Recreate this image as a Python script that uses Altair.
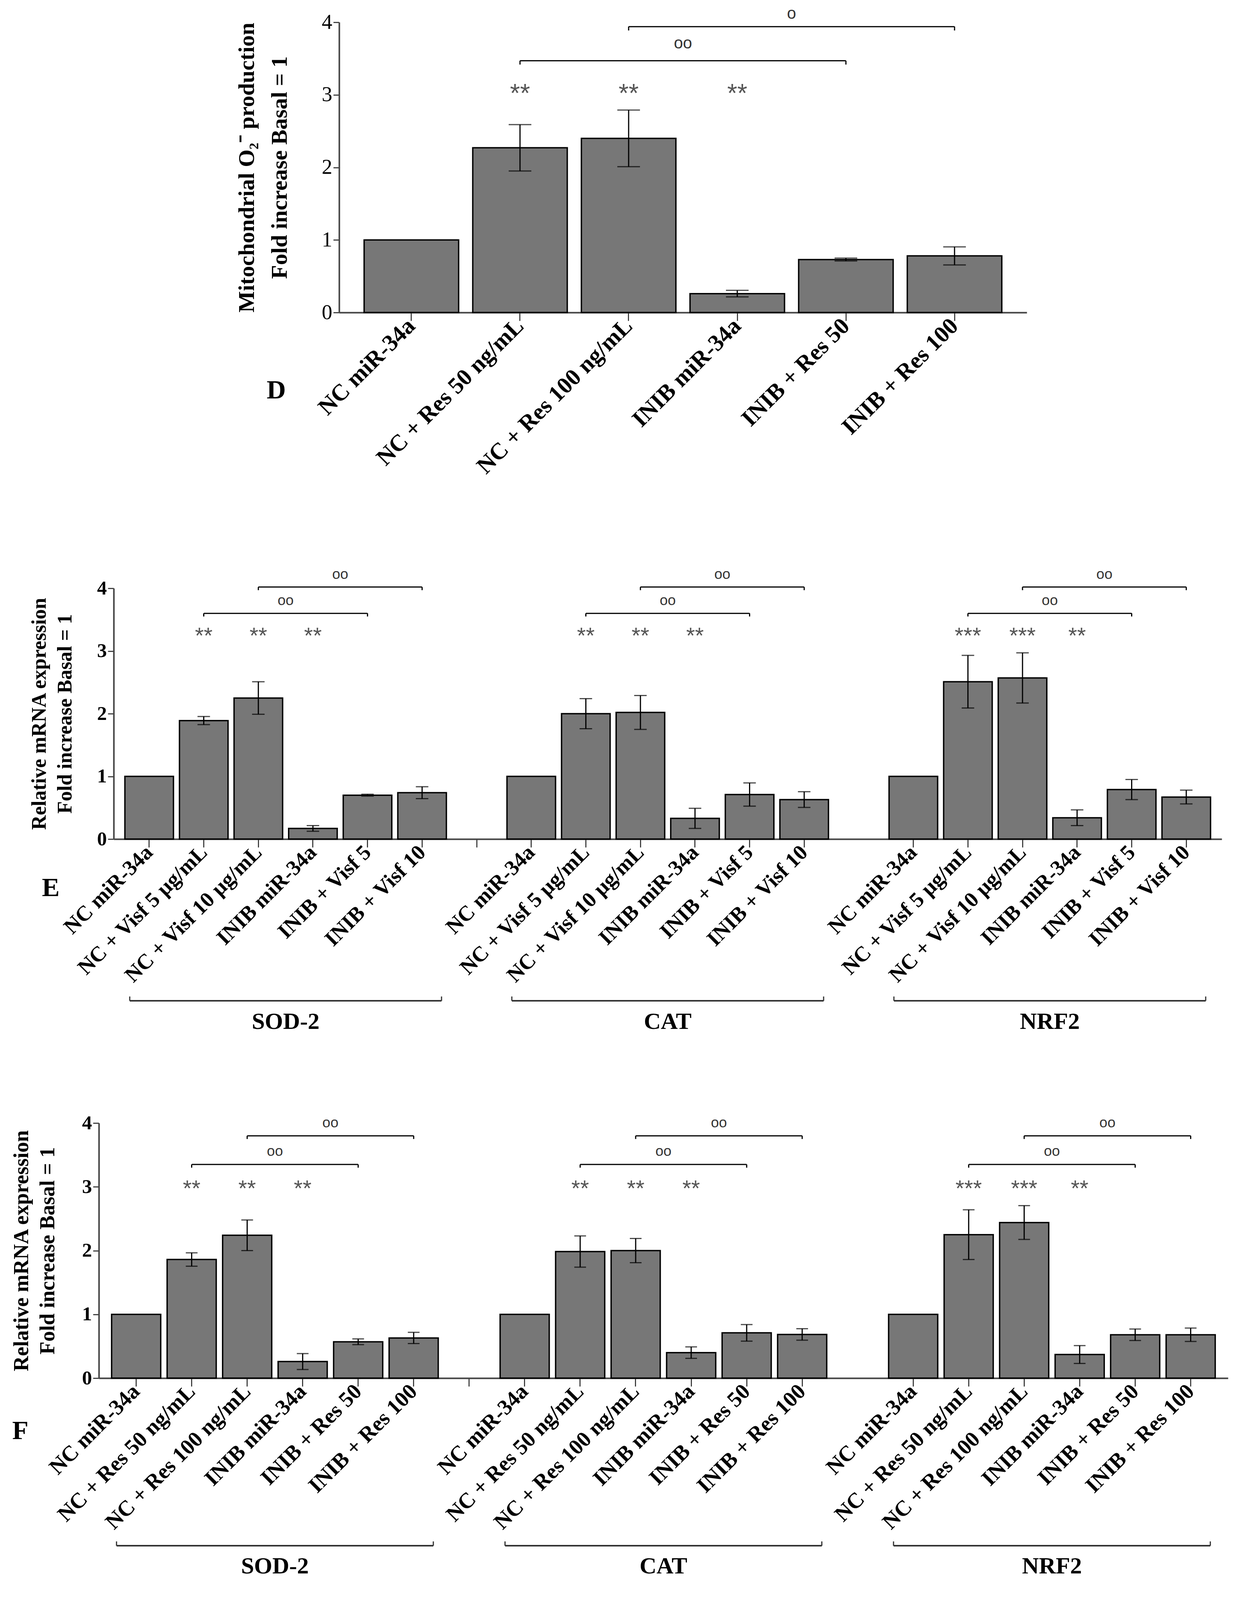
import altair as alt
import pandas as pd

SERIF = "Liberation Serif"
SANS = "Liberation Sans"
BAR_FILL = "#777777"

# ---------------- Panel D data ----------------
d_labels = ["NC miR-34a", "NC + Res 50 ng/mL", "NC + Res 100 ng/mL",
            "INIB miR-34a", "INIB + Res 50", "INIB + Res 100"]
d_mean = [1.00, 2.27, 2.40, 0.26, 0.73, 0.78]
d_err = [0.00, 0.32, 0.39, 0.045, 0.02, 0.125]
d_stars = ["", "**", "**", "**", "", ""]
d_star_y = 3.01
d_br_from = [1, 2]
d_br_to = [4, 5]
d_br_level = [3.47, 3.94]
d_br_text = ["oo", "o"]
d_br_text_y = [3.71, 4.12]

# ---------------- Panel E data ----------------
groups = ["SOD-2", "CAT", "NRF2"]
e_labels = ["NC miR-34a", "NC + Visf 5 µg/mL", "NC + Visf 10 µg/mL",
            "INIB miR-34a", "INIB + Visf 5", "INIB + Visf 10"]
e_mean_sod2 = [1.00, 1.89, 2.25, 0.17, 0.70, 0.74]
e_err_sod2 = [0.00, 0.065, 0.26, 0.045, 0.015, 0.095]
e_mean_cat = [1.00, 2.00, 2.02, 0.33, 0.71, 0.63]
e_err_cat = [0.00, 0.24, 0.27, 0.16, 0.185, 0.125]
e_mean_nrf2 = [1.00, 2.51, 2.57, 0.34, 0.79, 0.67]
e_err_nrf2 = [0.00, 0.42, 0.40, 0.125, 0.16, 0.11]
e_stars_sod2 = ["", "**", "**", "**", "", ""]
e_stars_cat = ["", "**", "**", "**", "", ""]
e_stars_nrf2 = ["", "***", "***", "**", "", ""]
e_star_y = 3.23
e_br_level = [3.60, 4.02]
e_br_text_y = [3.80, 4.22]

# ---------------- Panel F data ----------------
f_labels = ["NC miR-34a", "NC + Res 50 ng/mL", "NC + Res 100 ng/mL",
            "INIB miR-34a", "INIB + Res 50", "INIB + Res 100"]
f_mean_sod2 = [1.00, 1.86, 2.24, 0.26, 0.57, 0.63]
f_err_sod2 = [0.00, 0.105, 0.24, 0.125, 0.045, 0.088]
f_mean_cat = [1.00, 1.985, 2.00, 0.40, 0.71, 0.685]
f_err_cat = [0.00, 0.245, 0.19, 0.09, 0.13, 0.09]
f_mean_nrf2 = [1.00, 2.25, 2.44, 0.37, 0.68, 0.68]
f_err_nrf2 = [0.00, 0.39, 0.265, 0.14, 0.09, 0.105]
f_stars_sod2 = ["", "**", "**", "**", "", ""]
f_stars_cat = ["", "**", "**", "**", "", ""]
f_stars_nrf2 = ["", "***", "***", "**", "", ""]
f_star_y = 2.96
f_br_level = [3.35, 3.80]
f_br_text_y = [3.55, 4.00]

# shared bracket definition for E/F groups (bar index from -> to, label)
ef_br_from = [1, 2]
ef_br_to = [4, 5]
ef_br_text = ["oo", "oo"]


def group_tables(prefix, labels, means, errs, stars, star_y,
                 br_from, br_to, br_level, br_text, br_text_y):
    cats = [f"{prefix}|{l}" for l in labels]
    bars = pd.DataFrame({"cat": cats, "mean": means, "err": errs, "star": stars})
    bars["lo"] = bars["mean"] - bars["err"]
    bars["hi"] = bars["mean"] + bars["err"]
    bars["sy"] = star_y
    brk = pd.DataFrame({
        "a": [cats[i] for i in br_from],
        "b": [cats[j] for j in br_to],
        "mid": [cats[(i + j) // 2] for i, j in zip(br_from, br_to)],
        "level": br_level,
        "txt": br_text,
        "ty": br_text_y,
    })
    ends = pd.concat([
        pd.DataFrame({"c": brk["a"], "level": brk["level"]}),
        pd.DataFrame({"c": brk["b"], "level": brk["level"]}),
    ], ignore_index=True)
    return cats, bars, brk, ends


def build_panel(cats, tick_vals, bars, brk, ends, grp, letter, W, H, pi, po, s):
    step = W / (len(cats) - pi + 2 * po)
    xscale = alt.Scale(domain=cats, paddingInner=pi, paddingOuter=po)
    yscale = alt.Scale(domain=[0, 4], nice=False)
    ends = ends.copy()
    ends["level2"] = ends["level"] - s["endlen"]

    xaxis = alt.Axis(
        values=tick_vals,
        labelExpr="indexof(datum.value, '|') >= 0 ? split(datum.value, '|')[1] : ''",
        labelAngle=-45, labelAlign="right", labelBaseline="middle",
        labelFont=SERIF, labelFontWeight="bold", labelFontSize=s["xlab"],
        labelLimit=0, labelOverlap=False, labelPadding=s["xpad"], labelColor="black",
        tickSize=21, tickColor="#222222", tickWidth=2.5,
        domainColor="#444444", domainWidth=4, title=None, grid=False)
    yaxis = alt.Axis(
        values=[0, 1, 2, 3, 4], format="d", title=s["ytitle"],
        titleFont=SERIF, titleFontWeight="bold", titleFontSize=s["ytfs"],
        titleLineHeight=s["ytlh"], titlePadding=s["ytpad"], titleColor="black",
        labelFont=SERIF, labelFontWeight=s["ylw"], labelFontSize=s["ylfs"],
        labelColor="black", labelPadding=3, tickSize=15, tickColor="#444444",
        tickWidth=3, domainColor="#444444", domainWidth=4, grid=False)

    def XS(field, bp=None):
        if bp is None:
            return alt.X(field, scale=xscale)
        return alt.X(field, scale=xscale, bandPosition=bp)

    def YS(field):
        return alt.Y(field, scale=yscale)

    layers = []
    layers.append(alt.Chart(bars).mark_bar(fill=BAR_FILL, stroke="black", strokeWidth=3.5).encode(
        x=alt.X("cat:N", scale=xscale, axis=xaxis),
        y=alt.Y("mean:Q", scale=yscale, axis=yaxis)))
    eb = alt.Chart(bars).transform_filter("datum.err > 0")
    layers.append(eb.mark_rule(color="black", strokeWidth=3).encode(
        x=XS("cat:N", 0.5), y=YS("lo:Q"), y2="hi:Q"))
    layers.append(eb.transform_fold(["lo", "hi"], as_=["k", "v"]).mark_tick(
        color="black", thickness=3, size=s["cap"]).encode(x=XS("cat:N"), y=YS("v:Q")))
    layers.append(alt.Chart(bars).transform_filter("datum.star != ''").mark_text(
        font=SANS, fontSize=s["star"], color="#555555", baseline="middle").encode(
        x=XS("cat:N", 0.5), y=YS("sy:Q"), text="star:N"))
    layers.append(alt.Chart(brk).mark_rule(color="black", strokeWidth=3).encode(
        x=XS("a:N", 0.5), x2=alt.X2("b:N", bandPosition=0.5), y=YS("level:Q")))
    layers.append(alt.Chart(ends).mark_rule(color="black", strokeWidth=3).encode(
        x=XS("c:N", 0.5), y=YS("level:Q"), y2="level2:Q"))
    layers.append(alt.Chart(brk).mark_text(
        font=SANS, fontSize=s["oo"], color="#333333", baseline="middle", dx=step / 2).encode(
        x=XS("mid:N", 0.5), y=YS("ty:Q"), text="txt:N"))

    if grp is not None:
        gy = H + s["gy"]
        layers.append(alt.Chart(grp).mark_rule(color="#333333", strokeWidth=4).encode(
            x=XS("first:N", 0.1), x2=alt.X2("last:N", bandPosition=0.9), y=alt.value(gy)))
        layers.append(alt.Chart(grp).mark_rule(color="#333333", strokeWidth=3).encode(
            x=XS("first:N", 0.1), y=alt.value(gy - 11), y2=alt.value(gy)))
        layers.append(alt.Chart(grp).mark_rule(color="#333333", strokeWidth=3).encode(
            x=XS("last:N", 0.9), y=alt.value(gy - 11), y2=alt.value(gy)))
        layers.append(alt.Chart(grp).mark_text(
            font=SERIF, fontWeight="bold", fontSize=s["glab"], color="black",
            baseline="middle", dx=step / 2).encode(
            x=XS("mid:N", 0.5), y=alt.value(H + s["gl"]), text="name:N"))

    layers.append(alt.Chart(pd.DataFrame({"letter": [letter]})).mark_text(
        font=SERIF, fontWeight="bold", fontSize=68, color="black",
        baseline="middle", align="center").encode(
        x=alt.value(s["lx"]), y=alt.value(H + s["ly"]), text="letter:N"))

    return alt.layer(*layers).properties(width=W, height=H)


def spacer(w):
    return alt.Chart(pd.DataFrame({"s": [0]})).mark_point(opacity=0).encode(
        x=alt.value(0), y=alt.value(0)).properties(width=w, height=10)


# ---- Panel D ----
d_cats, d_bars, d_brk, d_ends = group_tables(
    "D", d_labels, d_mean, d_err, d_stars, d_star_y,
    d_br_from, d_br_to, d_br_level, d_br_text, d_br_text_y)
panel_d = build_panel(
    d_cats, d_cats, d_bars, d_brk, d_ends, None, "D", 1760, 743, 0.13, 0.23,
    dict(xlab=60, xpad=4, ytitle=["Mitochondrial O\u2082\u207b production", "Fold increase Basal = 1"],
         ytfs=58, ytlh=84, ytpad=78, ylw="normal", ylfs=54, cap=58, star=66, oo=42,
         endlen=0.053, lx=-161, ly=200))


# ---- Panels E and F ----
def multi(prefix_labels, means, errs, stars, star_y, br_level, br_text_y):
    cats, bars, brks, ends = [], [], [], []
    grp_rows = []
    for gi, g in enumerate(groups):
        c, b, br, en = group_tables(g, prefix_labels, means[gi], errs[gi], stars[gi], star_y,
                                    ef_br_from, ef_br_to, br_level, ef_br_text, br_text_y)
        cats += c
        if gi < len(groups) - 1:
            cats.append(f"gap{gi}")
        bars.append(b)
        brks.append(br)
        ends.append(en)
        grp_rows.append({"first": c[0], "last": c[-1], "mid": c[2], "name": g})
    tick_vals = [c for c in cats if c != "gap1"]
    return (cats, tick_vals, pd.concat(bars, ignore_index=True), pd.concat(brks, ignore_index=True),
            pd.concat(ends, ignore_index=True), pd.DataFrame(grp_rows))


ec, et, eb_, ebr, een, egrp = multi(
    e_labels, [e_mean_sod2, e_mean_cat, e_mean_nrf2], [e_err_sod2, e_err_cat, e_err_nrf2],
    [e_stars_sod2, e_stars_cat, e_stars_nrf2], e_star_y, e_br_level, e_br_text_y)
panel_e = build_panel(
    ec, et, eb_, ebr, een, egrp, "E", 2836, 642, 0.11, 0.205,
    dict(xlab=55, xpad=4, ytitle=["Relative mRNA expression", "Fold increase Basal = 1"],
         ytfs=52, ytlh=66, ytpad=55, ylw="bold", ylfs=50, cap=32, star=58, oo=37,
         endlen=0.05, gy=414, gl=468, glab=60, lx=-161, ly=126))

fc, ft, fb_, fbr, fen, fgrp = multi(
    f_labels, [f_mean_sod2, f_mean_cat, f_mean_nrf2], [f_err_sod2, f_err_cat, f_err_nrf2],
    [f_stars_sod2, f_stars_cat, f_stars_nrf2], f_star_y, f_br_level, f_br_text_y)
panel_f = build_panel(
    fc, ft, fb_, fbr, fen, fgrp, "F", 2890, 653, 0.115, 0.23,
    dict(xlab=56, xpad=4, ytitle=["Relative mRNA expression", "Fold increase Basal = 1"],
         ytfs=54, ytlh=67, ytpad=60, ylw="bold", ylfs=51, cap=30, star=58, oo=37,
         endlen=0.05, gy=429, gl=482, glab=60, lx=-201, ly=136))

row_d = alt.hconcat(spacer(587), panel_d, spacing=0)
row_e = alt.hconcat(spacer(58), panel_e, spacing=0)
row_f = alt.hconcat(spacer(12), panel_f, spacing=0)

chart = alt.vconcat(alt.vconcat(row_d, row_e, spacing=227), row_f, spacing=203).configure(
    background="white").configure_view(stroke=None, strokeWidth=0)

chart.save("out.html", embed_options={"renderer": "svg", "actions": False})
